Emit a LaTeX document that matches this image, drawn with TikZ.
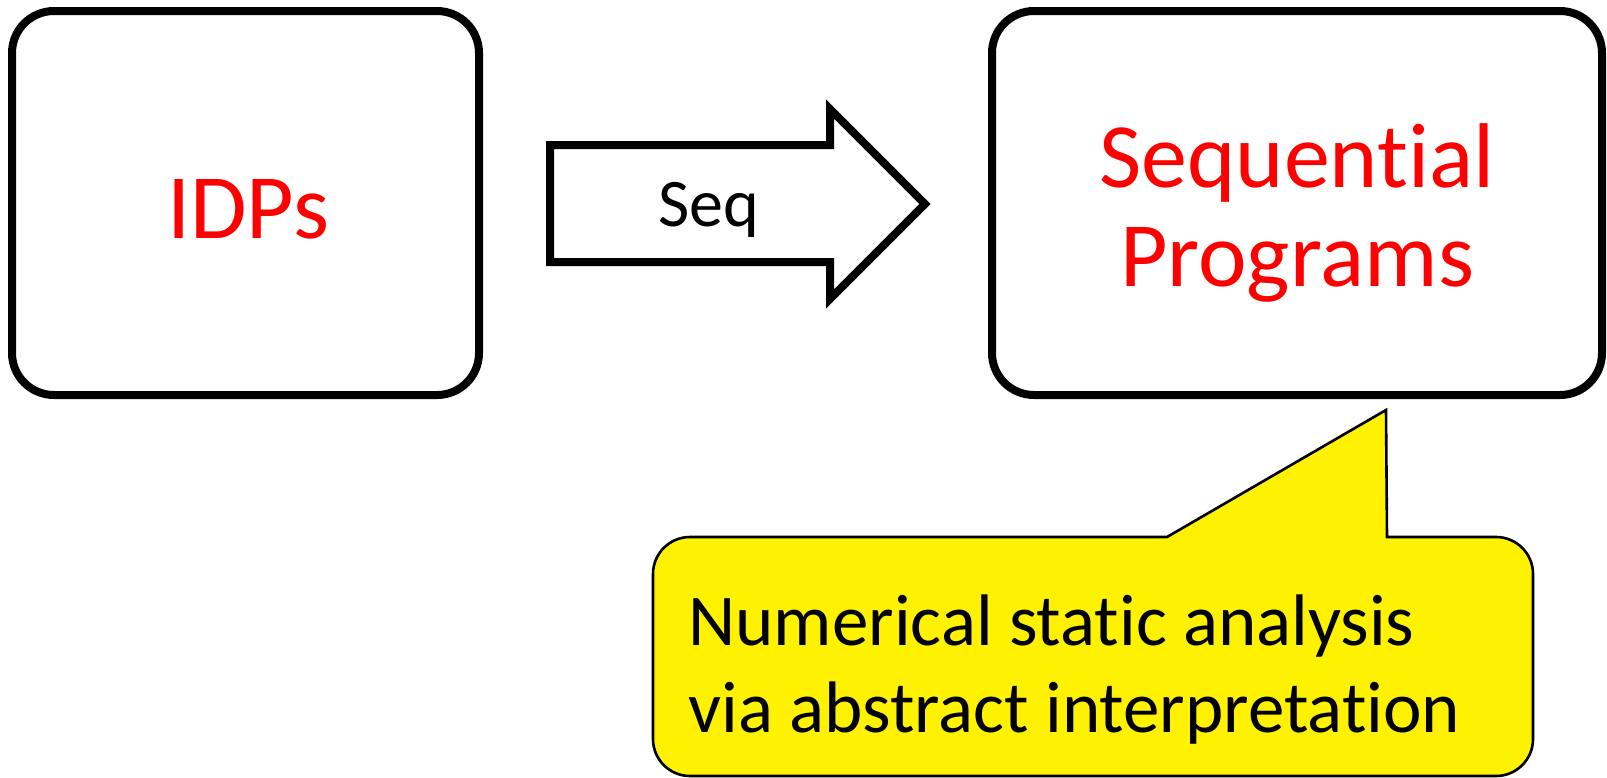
\documentclass[tikz,border=0pt]{standalone}
\usepackage{fontspec}
\setmainfont{Carlito}[Ligatures=NoCommon]

\begin{document}
\begin{tikzpicture}[x=0.5pt,y=-0.5pt,
  box/.style={draw,line width=4pt,rounded corners=21pt,minimum height=192pt},
  boxtext/.style={text=red,inner sep=0pt,anchor=base,align=center,font=\fontsize{46}{49.5}\selectfont},
  blockarrow/.style={draw,line width=4pt},
  bubble/.style={draw,line width=1.3pt,fill=yellow}]
\path[use as bounding box] (0,0) rectangle (1607,777);
\node[box,minimum width=233.5pt] (idps) at (245.5,203) {};
\node[boxtext] (idpstext) at (248,238) {IDPs};
\node[box,minimum width=305pt] (seqprog) at (1297,203) {};
\node[boxtext] (seqprogtext) at (1297,286) {Sequential\\Programs};
\draw[blockarrow] (550,145) -- (830,145) -- (830,109) -- (925,204) -- (830,299) -- (830,262) -- (550,262) -- cycle;
\node[inner sep=0pt,font=\fontsize{34}{40}\selectfont,text height=21.5pt,text depth=0pt] (seqlabel) at (709,205) {Seq};
\filldraw[bubble] (1387,537) [rounded corners=18.5pt] -- (1533,537) -- (1533,776) -- (653,776) -- (653,537) [sharp corners] -- (1167,537) -- (1386,410) -- cycle;
\node[anchor=base west,align=left,inner sep=0pt,font=\fontsize{36.5}{43.5}\selectfont] (note) at (688,732) {Numerical static analysis\\via abstract interpretation};
\end{tikzpicture}
\end{document}
